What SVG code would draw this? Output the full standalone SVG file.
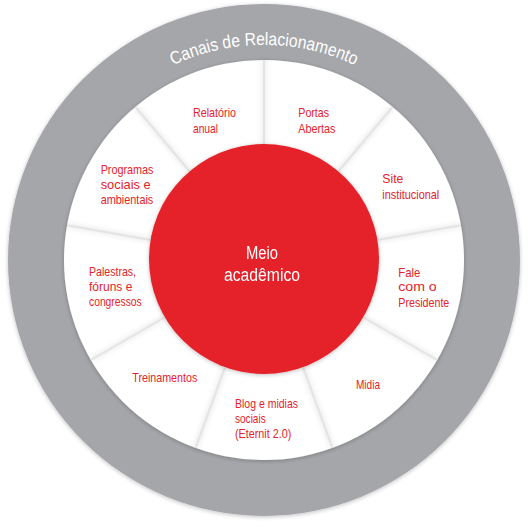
<svg xmlns="http://www.w3.org/2000/svg" width="529" height="529" viewBox="0 0 529 529">
<style>
.lbl{font-family:"Liberation Sans","DejaVu Sans",sans-serif;font-size:13.5px;fill:#e52229}
.ctr{font-family:"Liberation Sans","DejaVu Sans",sans-serif;font-size:18px;fill:#ffffff}
.arc{font-family:"Liberation Sans","DejaVu Sans",sans-serif;font-size:18px;fill:#ffffff}
.div{stroke:#e4e4e4;stroke-width:2;fill:none}
.divs{stroke:#000;stroke-opacity:0.06;stroke-width:6;fill:none}
</style>
<defs>
<filter id="soft" x="-10%" y="-10%" width="120%" height="120%"><feGaussianBlur stdDeviation="2"/></filter>
<filter id="sh" x="-10%" y="-10%" width="120%" height="130%"><feGaussianBlur in="SourceAlpha" stdDeviation="2"/><feOffset dy="1"/><feComponentTransfer><feFuncA type="linear" slope="0.25"/></feComponentTransfer><feMerge><feMergeNode/><feMergeNode in="SourceGraphic"/></feMerge></filter>
<path id="arcp" d="M 49,260 A 215 215 0 0 1 479,260"/>
</defs>
<rect width="529" height="529" fill="#ffffff"/>
<g id="ring" filter="url(#sh)">
<circle cx="264" cy="260" r="256" fill="#a5a6a9"/>
</g>
<text class="arc"><textPath href="#arcp" startOffset="50%" text-anchor="middle" textLength="188" lengthAdjust="spacingAndGlyphs">Canais de Relacionamento</textPath></text>
<g id="white-ring" filter="url(#sh)">
<circle cx="264" cy="260" r="200" fill="#ffffff"/>
</g>
<g id="connectors">
<g filter="url(#soft)">
<line class="divs" x1="264" y1="145" x2="264" y2="60"/>
<line class="divs" x1="337.9" y1="171.9" x2="392.6" y2="106.8"/>
<line class="divs" x1="377.3" y1="240" x2="461" y2="225.3"/>
<line class="divs" x1="363.6" y1="317.5" x2="437.2" y2="360"/>
<line class="divs" x1="303.3" y1="368.1" x2="332.4" y2="447.9"/>
<line class="divs" x1="224.7" y1="368.1" x2="195.6" y2="447.9"/>
<line class="divs" x1="164.4" y1="317.5" x2="90.8" y2="360"/>
<line class="divs" x1="150.7" y1="240" x2="67" y2="225.3"/>
<line class="divs" x1="190.1" y1="171.9" x2="135.4" y2="106.8"/>
</g>
<line class="div" x1="264" y1="145" x2="264" y2="60"/>
<line class="div" x1="337.9" y1="171.9" x2="392.6" y2="106.8"/>
<line class="div" x1="377.3" y1="240" x2="461" y2="225.3"/>
<line class="div" x1="363.6" y1="317.5" x2="437.2" y2="360"/>
<line class="div" x1="303.3" y1="368.1" x2="332.4" y2="447.9"/>
<line class="div" x1="224.7" y1="368.1" x2="195.6" y2="447.9"/>
<line class="div" x1="164.4" y1="317.5" x2="90.8" y2="360"/>
<line class="div" x1="150.7" y1="240" x2="67" y2="225.3"/>
<line class="div" x1="190.1" y1="171.9" x2="135.4" y2="106.8"/>
</g>
<g id="meio-academico" filter="url(#sh)">
<circle cx="264" cy="259" r="115" fill="#e52229"/>
<text class="ctr" x="262" y="258.5" text-anchor="middle" textLength="32" lengthAdjust="spacingAndGlyphs">Meio</text>
<text class="ctr" x="262" y="281" text-anchor="middle" textLength="76" lengthAdjust="spacingAndGlyphs">acadêmico</text>
</g>
<g id="relatorio-anual">
<text class="lbl" x="193" y="117.3" textLength="43" lengthAdjust="spacingAndGlyphs">Relatório</text>
<text class="lbl" x="193" y="132.7" textLength="25" lengthAdjust="spacingAndGlyphs">anual</text>
</g>
<g id="portas-abertas">
<text class="lbl" x="298.3" y="117.3" textLength="30.7" lengthAdjust="spacingAndGlyphs">Portas</text>
<text class="lbl" x="298.3" y="132.7" textLength="37" lengthAdjust="spacingAndGlyphs">Abertas</text>
</g>
<g id="site-institucional">
<text class="lbl" x="382.3" y="183.3" textLength="21" lengthAdjust="spacingAndGlyphs">Site</text>
<text class="lbl" x="382.3" y="198.7" textLength="57" lengthAdjust="spacingAndGlyphs">institucional</text>
</g>
<g id="fale-com-o-presidente">
<text class="lbl" x="398.3" y="276.7" textLength="22" lengthAdjust="spacingAndGlyphs">Fale</text>
<text class="lbl" x="398.3" y="291.3" textLength="38.4" lengthAdjust="spacingAndGlyphs">com o</text>
<text class="lbl" x="398.3" y="306.7" textLength="51" lengthAdjust="spacingAndGlyphs">Presidente</text>
</g>
<g id="midia">
<text class="lbl" x="356" y="388.7" textLength="24" lengthAdjust="spacingAndGlyphs">Midia</text>
</g>
<g id="blog">
<text class="lbl" x="235" y="408.3" textLength="63" lengthAdjust="spacingAndGlyphs">Blog e midias</text>
<text class="lbl" x="235" y="423.3" textLength="30.7" lengthAdjust="spacingAndGlyphs">sociais</text>
<text class="lbl" x="235" y="437.7" textLength="56.3" lengthAdjust="spacingAndGlyphs">(Eternit 2.0)</text>
</g>
<g id="treinamentos">
<text class="lbl" x="132.3" y="381.7" textLength="65" lengthAdjust="spacingAndGlyphs">Treinamentos</text>
</g>
<g id="palestras">
<text class="lbl" x="89" y="276" textLength="47" lengthAdjust="spacingAndGlyphs">Palestras,</text>
<text class="lbl" x="89" y="291" textLength="43.3" lengthAdjust="spacingAndGlyphs">fóruns e</text>
<text class="lbl" x="89" y="305.7" textLength="52.7" lengthAdjust="spacingAndGlyphs">congressos</text>
</g>
<g id="programas">
<text class="lbl" x="100.7" y="174" textLength="52.6" lengthAdjust="spacingAndGlyphs">Programas</text>
<text class="lbl" x="100.7" y="189.3" textLength="50" lengthAdjust="spacingAndGlyphs">sociais e</text>
<text class="lbl" x="100.7" y="204.3" textLength="52.6" lengthAdjust="spacingAndGlyphs">ambientais</text>
</g>
</svg>
